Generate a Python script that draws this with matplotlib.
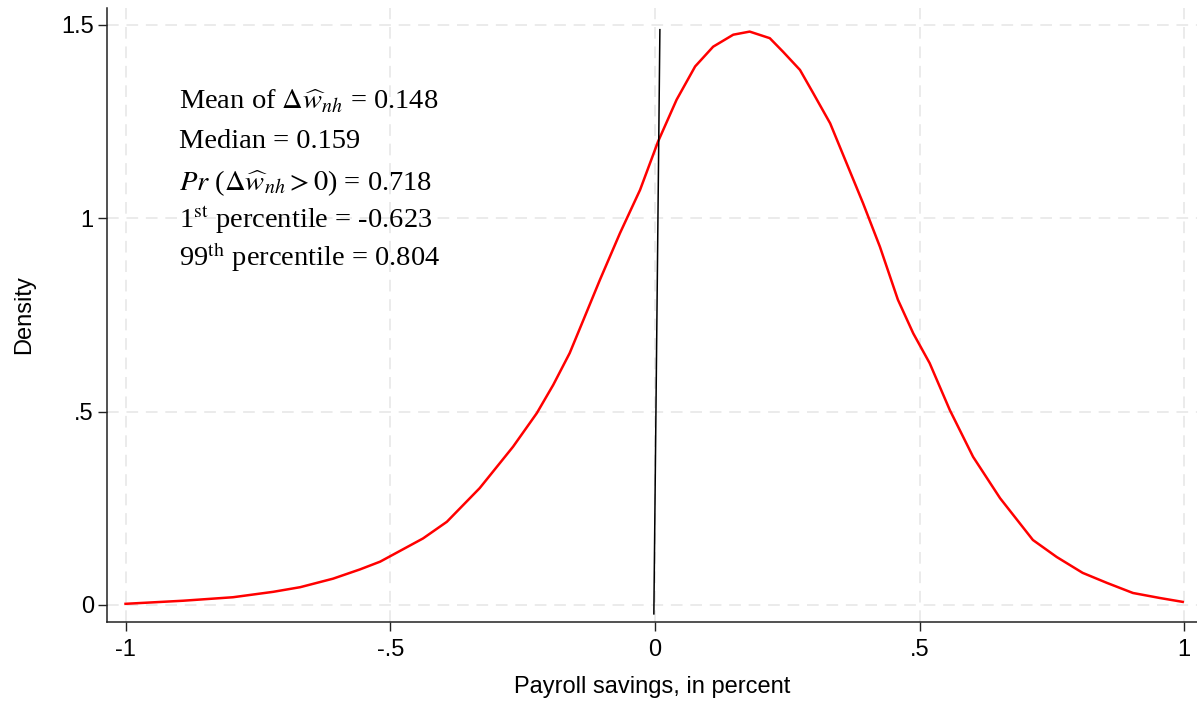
import numpy as np
import matplotlib.pyplot as plt

# kernel density of payroll savings
dens_x = [-1.0, -0.891, -0.797, -0.721, -0.670, -0.608, -0.557, -0.519,
          -0.438, -0.393, -0.331, -0.268, -0.223, -0.192, -0.161, -0.135,
          -0.104, -0.066, -0.028, 0.006, 0.041, 0.076, 0.110, 0.148, 0.179,
          0.217, 0.242, 0.274, 0.299, 0.331, 0.362, 0.393, 0.425, 0.459,
          0.488, 0.519, 0.557, 0.601, 0.652, 0.714, 0.759, 0.808, 0.854,
          0.903, 0.954, 0.997]
dens_y = [0.003, 0.011, 0.020, 0.034, 0.046, 0.068, 0.092, 0.112,
          0.172, 0.215, 0.302, 0.409, 0.496, 0.569, 0.651, 0.737,
          0.840, 0.961, 1.073, 1.198, 1.306, 1.392, 1.443, 1.474, 1.482,
          1.465, 1.430, 1.383, 1.323, 1.245, 1.142, 1.039, 0.926, 0.789,
          0.702, 0.625, 0.504, 0.383, 0.276, 0.168, 0.124, 0.083, 0.057,
          0.031, 0.018, 0.008]

# vertical reference line at zero
ref_x = [-0.002, 0.0094]
ref_y = [-0.023, 1.487]

xticks = [-1, -0.5, 0, 0.5, 1]
xtick_labels = ['-1', '-.5', '0', '.5', '1']
yticks = [0, 0.5, 1, 1.5]
ytick_labels = ['0', '.5', '1', '1.5']

stats_lines = [
    r'Mean of $\Delta\widehat{w}_{nh}$ = 0.148',
    'Median = 0.159',
    r'$Pr$ ($\Delta\widehat{w}_{nh} > 0$) = 0.718',
    r'1$^{\mathrm{st}}$ percentile = -0.623',
    r'99$^{\mathrm{th}}$ percentile = 0.804',
]
stats_y = [1.282, 1.181, 1.073, 0.974, 0.875]

plt.rcParams['font.family'] = ['Liberation Sans', 'DejaVu Sans']
plt.rcParams['mathtext.fontset'] = 'stix'

fig = plt.figure(figsize=(11.97, 7.02), dpi=100)
ax = fig.add_axes([107 / 1197, 80 / 702, 1 - 107 / 1197, 614 / 702])

ax.plot(dens_x, dens_y, color='#ff0000', lw=1.8, zorder=3)
ax.plot(ref_x, ref_y, color='black', lw=1.1, zorder=4)

ax.set_xlim(-1.035, 1.024)
ax.set_ylim(-0.044, 1.543)

ax.set_xticks(xticks)
ax.set_xticklabels(xtick_labels)
ax.set_yticks(yticks)
ax.set_yticklabels(ytick_labels)
ax.tick_params(axis='both', labelsize=17, length=6.5, width=1.0, color='#222222')
ax.tick_params(axis='x', pad=5.5)
ax.tick_params(axis='y', pad=3)

ax.grid(True, color='#ebebeb', linestyle=(0, (6, 4)), lw=1.4)
ax.set_axisbelow(True)

for s in ['top', 'right']:
    ax.spines[s].set_visible(False)
for s in ['left', 'bottom']:
    ax.spines[s].set_linewidth(1.1)
    ax.spines[s].set_color('#222222')

ax.set_xlabel('Payroll savings, in percent', fontsize=17, labelpad=11)
ax.set_ylabel('Density', fontsize=17, labelpad=19)

for txt, yy in zip(stats_lines, stats_y):
    ax.text(-0.899, yy, txt, fontsize=20.5, family='Liberation Serif',
            va='baseline', ha='left')

fig.savefig('out.png', dpi=100)
